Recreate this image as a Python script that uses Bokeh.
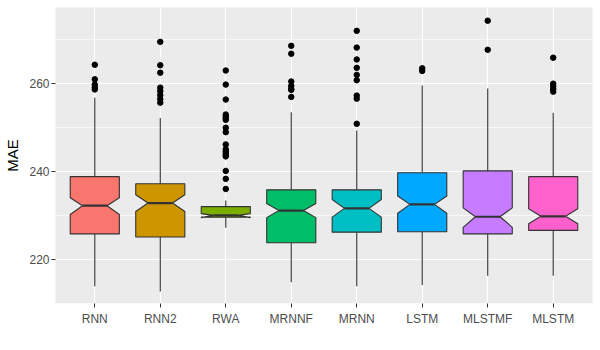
from bokeh.plotting import figure
from bokeh.models import ColumnDataSource, FixedTicker, Range1d
from bokeh.embed import file_html
from bokeh.resources import INLINE

# ---- data ----
cats = ["RNN", "RNN2", "RWA", "MRNNF", "MRNN", "LSTM", "MLSTMF", "MLSTM"]
colors = ["#F8766D", "#CD9600", "#7CAE00", "#00BE67", "#00BFC4", "#00A9FF", "#C77CFF", "#FF61CC"]
q1 = [225.9, 225.2, 229.7, 223.9, 226.3, 226.4, 225.9, 226.7]
q3 = [238.9, 237.3, 232.1, 235.9, 235.9, 239.8, 240.2, 238.9]
med = [232.3, 232.9, 230.1, 231.2, 231.7, 232.6, 229.8, 229.9]
notch_lo = [230.3, 231.0, 229.6, 229.6, 229.7, 230.6, 227.4, 228.2]
notch_hi = [234.1, 234.8, 230.5, 232.8, 233.7, 234.5, 231.8, 231.6]
whisk_lo = [214.0, 212.8, 227.3, 214.9, 214.0, 214.3, 216.4, 216.4]
whisk_hi = [256.8, 252.2, 233.5, 253.5, 249.4, 259.6, 258.9, 253.4]

out_RNN = [264.3, 261.0, 259.8, 259.2, 258.7]
out_RNN2 = [269.5, 264.2, 262.5, 259.1, 258.3, 257.4, 256.5, 255.7]
out_RWA = [263.0, 259.8, 256.4, 253.0, 252.6, 252.2, 251.8, 250.0, 249.0,
           246.2, 245.1, 244.6, 244.2, 243.8, 243.5, 240.2, 238.4, 236.1]
out_MRNNF = [268.6, 266.8, 260.5, 259.5, 258.8, 258.6, 257.0]
out_MRNN = [272.0, 268.2, 265.5, 263.6, 262.0, 260.8, 257.3, 256.6, 250.9]
out_LSTM = [263.5, 262.9]
out_MLSTMF = [274.3, 267.7]
out_MLSTM = [265.9, 260.0, 259.4, 258.8, 258.2]
outliers = [out_RNN, out_RNN2, out_RWA, out_MRNNF, out_MRNN, out_LSTM, out_MLSTMF, out_MLSTM]

y_ticks = [220, 240, 260]
y_minor = [210, 230, 250, 270]

# ---- geometry derived through the plot's scales ----
pos = list(range(1, len(cats) + 1))
bw = 0.75
nw = bw / 4.0

box_xs, box_ys = [], []
for i, x in enumerate(pos):
    xl, xr = x - bw / 2, x + bw / 2
    box_xs.append([xl, xl, xl + nw, xl, xl, xr, xr, xr - nw, xr, xr])
    box_ys.append([q3[i], notch_hi[i], med[i], notch_lo[i], q1[i],
                   q1[i], notch_lo[i], med[i], notch_hi[i], q3[i]])

box_src = ColumnDataSource(dict(xs=box_xs, ys=box_ys, color=colors))

wsrc = ColumnDataSource(dict(
    x=pos + pos,
    y0=q3 + q1,
    y1=whisk_hi + whisk_lo,
))

msrc = ColumnDataSource(dict(
    x0=[x - bw / 2 + nw for x in pos],
    x1=[x + bw / 2 - nw for x in pos],
    y=med,
))

ox, oy = [], []
for x, vals in zip(pos, outliers):
    for v in vals:
        ox.append(x)
        oy.append(v)
osrc = ColumnDataSource(dict(x=ox, y=oy))

p = figure(width=600, height=350, output_backend="svg", toolbar_location=None,
           x_range=Range1d(0.4, 8.6), y_range=Range1d(210.1, 277.3),
           min_border_left=55, min_border_right=8, min_border_top=7, min_border_bottom=47)

p.background_fill_color = "#EBEBEB"
p.border_fill_color = "white"
p.outline_line_color = None

# grids
p.xgrid.ticker = FixedTicker(ticks=pos)
p.xgrid.grid_line_color = "white"
p.xgrid.grid_line_width = 1.2
p.ygrid.ticker = FixedTicker(ticks=y_ticks, minor_ticks=y_minor)
p.ygrid.grid_line_color = "white"
p.ygrid.grid_line_width = 1.2
p.ygrid.minor_grid_line_color = "white"
p.ygrid.minor_grid_line_width = 0.6

# axes
p.xaxis.ticker = FixedTicker(ticks=pos)
p.xaxis.major_label_overrides = {x: c for x, c in zip(pos, cats)}
p.yaxis.ticker = FixedTicker(ticks=y_ticks, minor_ticks=y_minor)
for ax in (p.xaxis[0], p.yaxis[0]):
    ax.axis_line_color = None
    ax.major_tick_line_color = "#333333"
    ax.major_tick_line_width = 1
    ax.major_tick_in = 0
    ax.major_tick_out = 4
    ax.minor_tick_line_color = None
    ax.major_label_text_font = "Liberation Sans"
    ax.major_label_text_font_size = "12px"
    ax.major_label_text_color = "#4D4D4D"
p.xaxis.major_label_standoff = 4
p.yaxis.major_label_standoff = 2
p.yaxis.axis_label = "MAE"
p.yaxis.axis_label_text_font = "Liberation Sans"
p.yaxis.axis_label_text_font_size = "15px"
p.yaxis.axis_label_text_font_style = "normal"
p.yaxis.axis_label_text_color = "black"
p.yaxis.axis_label_standoff = 5

# whiskers
p.segment(x0="x", y0="y0", x1="x", y1="y1", source=wsrc, line_color="#333333", line_width=1.1)
# notched boxes
p.patches(xs="xs", ys="ys", source=box_src, fill_color="color", line_color="#333333", line_width=1.1)
# medians
p.segment(x0="x0", y0="y", x1="x1", y1="y", source=msrc, line_color="#333333", line_width=2.2)
# outliers
p.scatter(x="x", y="y", source=osrc, size=5.5, color="black")

open("out.html", "w").write(file_html(p, INLINE))
